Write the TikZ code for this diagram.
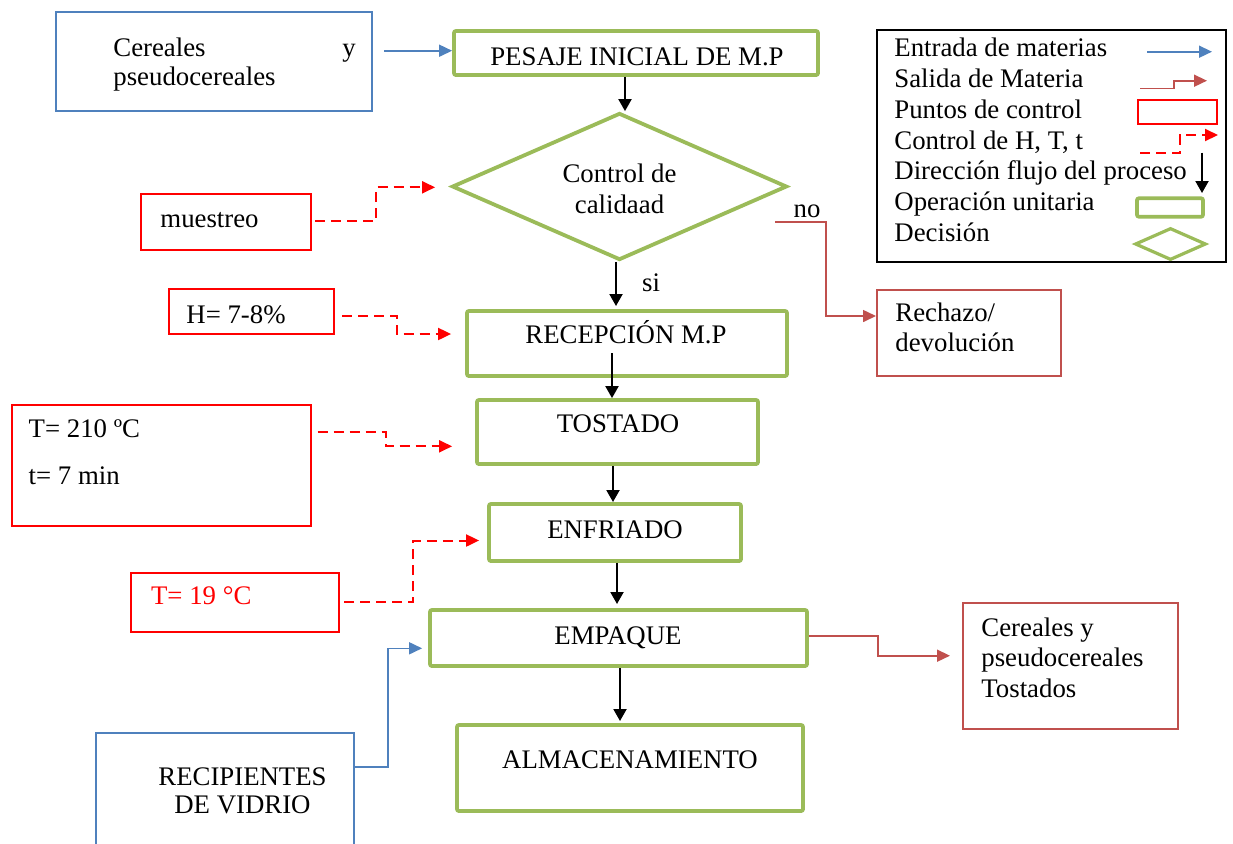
\documentclass[tikz,border=0pt]{standalone}
\usepackage{fontspec}
\setmainfont{Liberation Serif}
\usetikzlibrary{arrows.meta,shapes.geometric,fit}
\definecolor{inblue}{HTML}{4F81BD}
\definecolor{opgreen}{HTML}{9BBB59}
\definecolor{outred}{HTML}{C0504D}
\definecolor{ctrlred}{HTML}{FF0000}
\newcommand\diagfont{\fontsize{13.4}{15.5}\selectfont}
\tikzset{
  txt/.style={inner sep=0pt, font=\diagfont},
  opbox/.style={draw=opgreen, line width=1.9pt, rounded corners=1pt, inner sep=0pt},
  decision/.style={diamond, draw=opgreen, line width=1.9pt, inner sep=0pt},
  inbox/.style={draw=inblue, line width=0.9pt, inner sep=0pt},
  outbox/.style={draw=outred, line width=1pt, inner sep=0pt},
  ctrlbox/.style={draw=ctrlred, line width=1pt, inner sep=0pt},
  flow/.style={draw=black, line width=1pt, -{Triangle[length=6pt,width=6.5pt]}},
  feed/.style={draw=inblue, line width=0.8pt, -{Triangle[length=6.5pt,width=6pt]}},
  exit/.style={draw=outred, line width=0.8pt, -{Triangle[length=6.5pt,width=6pt]}},
  ctrl/.style={draw=ctrlred, line width=1pt, dash pattern=on 5pt off 3pt,
               -{Triangle[length=6.5pt,width=6pt]}},
}
\begin{document}
\begin{tikzpicture}[x=0.5pt, y=-0.5pt]
\clip (0,0) rectangle (1233,843);
\fill[white] (0,0) rectangle (1233,843);

% ---------- raw material input ----------
\node[inbox, fit={(56,12) (372,111)}] (cereales) {};
\node[txt, anchor=base west] (cereales-a) at (113,56.7) {Cereales};
\node[txt, anchor=base west] (cereales-y) at (342,56.7) {y};
\node[txt, anchor=base west] (cereales-b) at (113,85) {pseudocereales};

% ---------- main process line ----------
\node[opbox, fit={(454,31) (818,75)}] (pesaje) {};
\node[txt, anchor=base] (pesaje-t) at (637,65) {PESAJE INICIAL DE M.P};

\node[decision, minimum width=167.5pt, minimum height=73.5pt] (calidad) at (619.5,186.5) {};
\node[txt, anchor=base] (calidad-a) at (619.5,182.7) {Control de};
\node[txt, anchor=base] (calidad-b) at (619.5,213) {calidaad};

\node[opbox, fit={(467,311) (787,376)}] (recepcion) {};
\node[txt, anchor=base] (recepcion-t) at (626,343.3) {RECEPCIÓN M.P};

\node[opbox, fit={(477,400) (758,464)}] (tostado) {};
\node[txt, anchor=base] (tostado-t) at (618,432.7) {TOSTADO};

\node[opbox, fit={(489,504) (741,561)}] (enfriado) {};
\node[txt, anchor=base] (enfriado-t) at (615,538.3) {ENFRIADO};

\node[opbox, fit={(430,610) (807,666)}] (empaque) {};
\node[txt, anchor=base] (empaque-t) at (618,644) {EMPAQUE};

\node[opbox, fit={(457,725) (803,811)}] (almacen) {};
\node[txt, anchor=base] (almacen-t) at (630,768.3) {ALMACENAMIENTO};

% ---------- control points ----------
\node[ctrlbox, fit={(141,194) (311,250)}] (muestreo) {};
\node[txt, anchor=base west] (muestreo-t) at (160,227.3) {muestreo};

\node[ctrlbox, fit={(169,289) (334,334)}] (humedad) {};
\node[txt, anchor=base west] (humedad-t) at (186,323.3) {H= 7-8\%};

\node[ctrlbox, fit={(12,405) (311,526)}] (tueste) {};
\node[txt, anchor=base west] (tueste-a) at (28.3,437.3) {T= 210 ºC};
\node[txt, anchor=base west] (tueste-b) at (28.3,484) {t= 7 min};

\node[ctrlbox, fit={(131,573) (339,632)}] (frio) {};
\node[txt, anchor=base west, text=ctrlred] (frio-t) at (150.7,604) {T= 19 °C};

% ---------- outputs and packaging input ----------
\node[outbox, fit={(877,290) (1061,376)}] (rechazo) {};
\node[txt, anchor=base west] (rechazo-a) at (895,321.7) {Rechazo/};
\node[txt, anchor=base west] (rechazo-b) at (895,351.7) {devolución};

\node[outbox, fit={(963,603) (1178,729)}] (producto) {};
\node[txt, anchor=base west] (producto-a) at (981,636) {Cereales y};
\node[txt, anchor=base west] (producto-b) at (981,666.5) {pseudocereales};
\node[txt, anchor=base west] (producto-c) at (981,697) {Tostados};

\node[inbox, fit={(96,733) (354,870)}] (vidrio) {};
\node[txt, anchor=base] (vidrio-a) at (242.5,785.7) {RECIPIENTES};
\node[txt, anchor=base] (vidrio-b) at (242.5,813) {DE VIDRIO};

% ---------- process flow ----------
\coordinate (rec-out) at (612,353);
\draw[flow] (625,0 |- pesaje.south) -- (625,0 |- calidad.north);
\draw[flow] (616,0 |- calidad.south) -- (616,306);
\draw[flow] (rec-out) -- (612,0 |- tostado.north);
\draw[flow] (613,0 |- tostado.south) -- (613,502);
\draw[flow] (617,0 |- enfriado.south) -- (617,604);
\draw[flow] (620,0 |- empaque.south) -- (620,721);

\node[txt, anchor=base west] (si) at (641.7,291.7) {si};
\node[txt, anchor=base west] (no) at (793.3,217) {no};
\coordinate (no-out) at (775,222);
\draw[exit] (no-out) -- (826,222) |- (rechazo.west |- 0,316);

% ---------- material in / out ----------
\draw[feed] (384,50.7) -- (pesaje.west |- 0,50.7);
\draw[feed] (vidrio.east |- 0,766.7) -- (388,766.7) |- ([xshift=-3pt]empaque.west |- 0,648.3);
\draw[exit] (empaque.east |- 0,635.7) -- (878,635.7) |- ([xshift=-6pt]producto.west |- 0,655.7);

% ---------- control links ----------
\draw[ctrl] ([xshift=1.6pt]muestreo.east |- 0,221) -- (375.7,221) |- ([xshift=-7.5pt]calidad.west |- 0,187.3);
\draw[ctrl] ([xshift=3.5pt]humedad.east |- 0,315.7) -- (396.7,315.7) |- ([xshift=-7pt]recepcion.west |- 0,334);
\draw[ctrl] ([xshift=2.8pt]tueste.east |- 0,432.3) -- (385.7,432.3) |- ([xshift=-11.5pt]tostado.west |- 0,446.3);
\draw[ctrl] ([xshift=2pt]frio.east |- 0,601.7) -- (413.3,601.7) |- ([xshift=-4pt]enfriado.west |- 0,540.5);

% ---------- legend ----------
\node[draw=black, line width=0.8pt, inner sep=0pt, fit={(877,30) (1226,262)}] (leyenda) {};
\node[txt, anchor=base west] (ley-1) at (894,56.7) {Entrada de materias};
\node[txt, anchor=base west] (ley-2) at (894,87.5) {Salida de Materia};
\node[txt, anchor=base west] (ley-3) at (894,118.3) {Puntos de control};
\node[txt, anchor=base west] (ley-4) at (894,149.1) {Control de H, T, t};
\node[txt, anchor=base west] (ley-5) at (894,179.9) {Dirección flujo del proceso};
\node[txt, anchor=base west] (ley-6) at (894,210.7) {Operación unitaria};
\node[txt, anchor=base west] (ley-7) at (894,241.5) {Decisión};

\coordinate (ley-in-a) at (1147,51.7);
\coordinate (ley-in-b) at (1212,51.7);
\draw[feed] (ley-in-a) -- (ley-in-b);
\coordinate (ley-out-a) at (1140,88.3);
\coordinate (ley-out-b) at (1207,80.7);
\draw[exit] (ley-out-a) -- (1174,88.3) |- (ley-out-b);
\node[ctrlbox, fit={(1138,100) (1216.7,124)}] (ley-punto) {};
\coordinate (ley-ctrl-a) at (1140,152.7);
\coordinate (ley-ctrl-b) at (1218,135);
\draw[ctrl] (ley-ctrl-a) -- (1180,152.7) |- (ley-ctrl-b);
\coordinate (ley-flow-a) at (1202,152.7);
\coordinate (ley-flow-b) at (1202,193);
\draw[flow] (ley-flow-a) -- (ley-flow-b);
\node[opbox, fit={(1137,198.3) (1203,216.7)}] (ley-op) {};
\node[decision, line width=1.6pt, minimum width=35.5pt, minimum height=16pt] (ley-dec) at (1170.5,244) {};
\end{tikzpicture}
\end{document}
